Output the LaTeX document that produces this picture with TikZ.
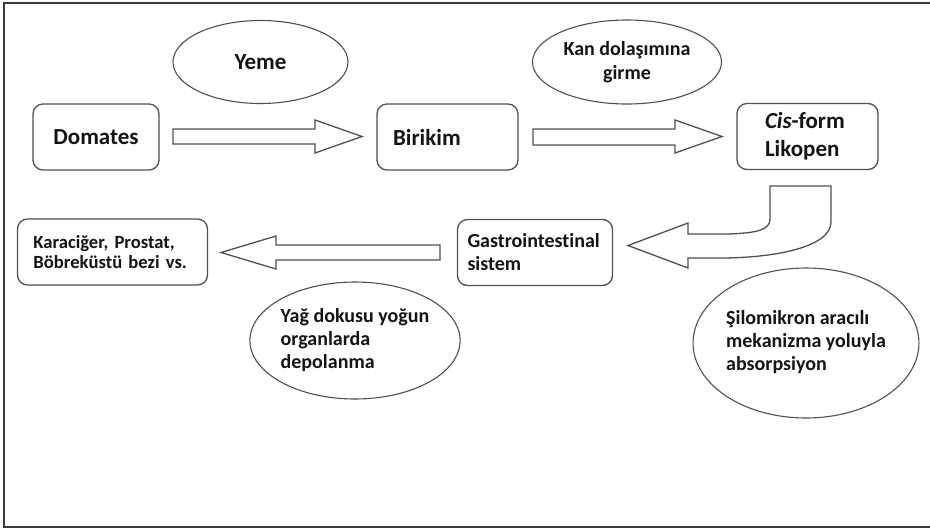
\documentclass[tikz,border=0pt]{standalone}
\usepackage{fontspec}
\setmainfont{Carlito}[Ligatures=NoCommon]
\usetikzlibrary{shapes.geometric}
\definecolor{linegray}{HTML}{505050}
\definecolor{framegray}{HTML}{3A3A3A}
\definecolor{inkdark}{HTML}{141414}
\begin{document}
\begin{tikzpicture}[x=1pt,y=-1pt,
  every node/.style={font=\fontsize{20}{23}\selectfont\bfseries, text=inkdark},
  bigtext/.style={font=\fontsize{23}{28}\selectfont\bfseries},
  stepbox/.style={draw=linegray, line width=1.3pt, rounded corners=10pt, fill=white,
    minimum height=66pt, inner ysep=0pt},
  bubble/.style={draw=linegray, line width=1.1pt, ellipse, inner sep=0pt, align=center},
  blockarrow/.style={draw=linegray, line width=1.3pt, fill=white, line join=miter}
]
\useasboundingbox (0,0) rectangle (930,528);
% outer frame (open on the right side)
\draw[framegray, line width=2pt] (930,3) -- (4,3) -- (4,527) -- (930,527);

% process boxes
\node[stepbox, bigtext, minimum width=126pt, inner xsep=0pt] (dom) at (96,137) {Domates};
\node[stepbox, bigtext, text width=109pt, inner xsep=16pt, align=left] (bir) at (447.5,137) {Birikim};
\node[stepbox, bigtext, text width=85pt, inner xsep=28pt, align=left] (cis) at (807.5,136.5) {\textit{Cis}-form\\Likopen};
\node[stepbox, text width=135pt, inner xsep=10pt, align=left] (gis) at (535,252.5) {\mbox{Gastrointestinal}\\sistem};
\node[stepbox, text width=158pt, inner xsep=16pt, align=left, font=\fontsize{18.6}{20}\selectfont\bfseries] (org) at (112.5,252) {\mbox{Karaciğer, Prostat,}\\\mbox{Böbreküstü bezi vs.}};

% process descriptions
\node[bubble, bigtext, minimum width=175pt, minimum height=83pt] (yeme) at (260.5,62) {Yeme};
\node[bubble, font=\fontsize{20}{24}\selectfont\bfseries, minimum width=189pt, minimum height=84pt] (kan) at (627,62) {Kan dolaşımına\\girme};
\node[bubble, minimum width=206pt, minimum height=117pt] (yag) at (355,340.5) {\begin{tabular}{@{}l@{}}Yağ dokusu yoğun\\organlarda\\depolanma\end{tabular}};
\node[bubble, minimum width=203pt, minimum height=150pt] (silo) at (806,343) {\begin{tabular}{@{}l@{}}Şilomikron aracılı\\mekanizma yoluyla\\absorpsiyon\end{tabular}};

% block arrows between the steps
\draw[blockarrow] (173,129) -- (315,129) -- (315,120) -- (362,136.5) -- (315,153) -- (315,144) -- (173,144) -- cycle;
\draw[blockarrow] (533,129) -- (675,129) -- (675,120) -- (722,136.5) -- (675,153) -- (675,145) -- (533,145) -- cycle;
\draw[blockarrow] (440,245) -- (276,245) -- (276,236) -- (221,252.5) -- (276,269) -- (276,260) -- (440,260) -- cycle;
% bent arrow from the likopen box down into the gastrointestinal system
\draw[blockarrow] (770,186) -- (831,186) -- (831,222)
  .. controls (831,247) and (775,258) .. (720,258) -- (688,258) -- (688,268)
  -- (628,245.5) -- (688,223) -- (688,234) -- (728,234)
  .. controls (757,233) and (770,230) .. (770,219) -- cycle;
\end{tikzpicture}
\end{document}
